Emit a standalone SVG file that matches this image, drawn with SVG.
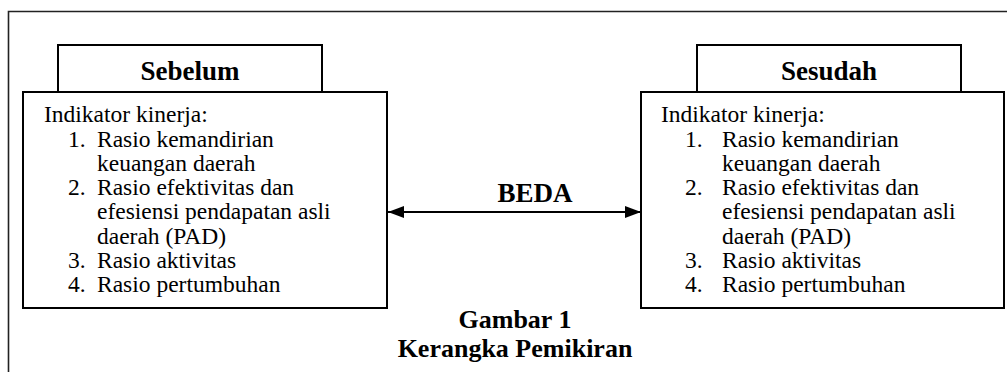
<svg xmlns="http://www.w3.org/2000/svg" width="1007" height="372" viewBox="0 0 1007 372">
<style>
.box{fill:#fff;stroke:#000;stroke-width:2}
.frame{fill:none;stroke:#222;stroke-width:1.6}
.t{font-family:"Liberation Serif",serif;font-size:23.5px;fill:#000}
.b{font-family:"Liberation Serif",serif;font-size:27px;font-weight:bold;fill:#000;text-anchor:middle}
.c{font-family:"Liberation Serif",serif;font-size:26px;font-weight:bold;fill:#000;text-anchor:middle}
.conn{stroke:#000;stroke-width:1.8;fill:none}
</style>
<defs>
<marker id="ah" viewBox="0 0 16 12" refX="16" refY="6" markerWidth="16" markerHeight="12" markerUnits="userSpaceOnUse" orient="auto-start-reverse">
<path d="M0,0 L16,6 L0,12 Z" fill="#000"/>
</marker>
</defs>
<rect width="1007" height="372" fill="#fff"/>
<path class="frame" d="M8.5,372 V11.5 H1007"/>
<g id="sebelum">
<rect class="box" x="58" y="45" width="264" height="47"/>
<text class="b" x="190" y="80">Sebelum</text>
<rect class="box" x="23" y="92" width="364" height="216"/>
<text class="t" x="44" y="122">Indikator kinerja:</text>
<text class="t" x="68" y="146.5">1.</text><text class="t" x="97" y="146.5">Rasio kemandirian</text>
<text class="t" x="97" y="170.5">keuangan daerah</text>
<text class="t" x="68" y="195">2.</text><text class="t" x="97" y="195">Rasio efektivitas dan</text>
<text class="t" x="97" y="219">efesiensi pendapatan asli</text>
<text class="t" x="97" y="243.5">daerah (PAD)</text>
<text class="t" x="68" y="268">3.</text><text class="t" x="97" y="268">Rasio aktivitas</text>
<text class="t" x="68" y="292">4.</text><text class="t" x="97" y="292">Rasio pertumbuhan</text>
</g>
<g id="sesudah">
<rect class="box" x="697" y="45" width="264" height="47"/>
<text class="b" x="829" y="80">Sesudah</text>
<rect class="box" x="641" y="92" width="363" height="216"/>
<text class="t" x="661" y="122">Indikator kinerja:</text>
<text class="t" x="685" y="146.5">1.</text><text class="t" x="722" y="146.5">Rasio kemandirian</text>
<text class="t" x="722" y="170.5">keuangan daerah</text>
<text class="t" x="685" y="195">2.</text><text class="t" x="722" y="195">Rasio efektivitas dan</text>
<text class="t" x="722" y="219">efesiensi pendapatan asli</text>
<text class="t" x="722" y="243.5">daerah (PAD)</text>
<text class="t" x="685" y="268">3.</text><text class="t" x="722" y="268">Rasio aktivitas</text>
<text class="t" x="685" y="292">4.</text><text class="t" x="722" y="292">Rasio pertumbuhan</text>
</g>
<g id="connectors">
<line class="conn" x1="388" y1="212" x2="641" y2="212" marker-start="url(#ah)" marker-end="url(#ah)"/>
<text class="b" x="535" y="202">BEDA</text>
</g>
<g id="caption">
<text class="c" x="515" y="328">Gambar 1</text>
<text class="c" x="515" y="356.5">Kerangka Pemikiran</text>
</g>
</svg>
